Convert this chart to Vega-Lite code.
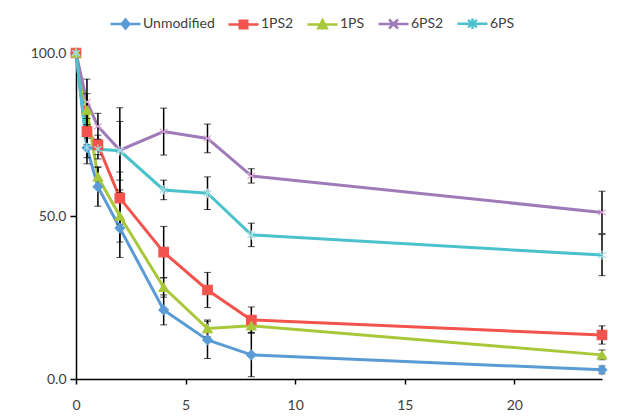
{
  "$schema": "https://vega.github.io/schema/vega-lite/v6.json",
  "width": 526,
  "height": 326,
  "autosize": "none",
  "padding": {"left": 76, "top": 53, "right": 25, "bottom": 39},
  "background": "white",
  "config": {
    "font": "Lato",
    "view": {"stroke": null},
    "axis": {"grid": false, "domainColor": "black", "tickColor": "black", "domainWidth": 1.5, "tickWidth": 1.5, "labelColor": "#404040", "labelFontSize": 14, "labelFont": "Lato"}
  },
  "data": {
    "values": [
      {"t": 0, "series": "Unmodified", "v": 100, "e": 0},
      {"t": 0.5, "series": "Unmodified", "v": 70.9, "e": 3},
      {"t": 1, "series": "Unmodified", "v": 59, "e": 6},
      {"t": 2, "series": "Unmodified", "v": 46.3, "e": 9},
      {"t": 4, "series": "Unmodified", "v": 21.2, "e": 4.6},
      {"t": 6, "series": "Unmodified", "v": 12, "e": 5.7},
      {"t": 8, "series": "Unmodified", "v": 7.4, "e": 6.7},
      {"t": 24, "series": "Unmodified", "v": 2.8, "e": 1.2},
      {"t": 0, "series": "1PS2", "v": 100, "e": 0},
      {"t": 0.5, "series": "1PS2", "v": 75.9, "e": 4},
      {"t": 1, "series": "1PS2", "v": 71.8, "e": 3},
      {"t": 2, "series": "1PS2", "v": 55.5, "e": 8},
      {"t": 4, "series": "1PS2", "v": 38.9, "e": 7.9},
      {"t": 6, "series": "1PS2", "v": 27.3, "e": 5.4},
      {"t": 8, "series": "1PS2", "v": 18.1, "e": 4},
      {"t": 24, "series": "1PS2", "v": 13.5, "e": 2.8},
      {"t": 0, "series": "1PS", "v": 100, "e": 0},
      {"t": 0.5, "series": "1PS", "v": 82.5, "e": 5},
      {"t": 1, "series": "1PS", "v": 62, "e": 3},
      {"t": 2, "series": "1PS", "v": 50, "e": 8},
      {"t": 4, "series": "1PS", "v": 28.1, "e": 3},
      {"t": 6, "series": "1PS", "v": 15.5, "e": 2.6},
      {"t": 8, "series": "1PS", "v": 16.3, "e": 2},
      {"t": 24, "series": "1PS", "v": 7.4, "e": 1.5},
      {"t": 0, "series": "6PS2", "v": 100, "e": 0},
      {"t": 0.5, "series": "6PS2", "v": 85, "e": 7},
      {"t": 1, "series": "6PS2", "v": 77.5, "e": 4},
      {"t": 2, "series": "6PS2", "v": 70.2, "e": 13},
      {"t": 4, "series": "6PS2", "v": 75.9, "e": 7.2},
      {"t": 6, "series": "6PS2", "v": 73.8, "e": 4.4},
      {"t": 8, "series": "6PS2", "v": 62.3, "e": 2.2},
      {"t": 24, "series": "6PS2", "v": 51.1, "e": 6.5},
      {"t": 0, "series": "6PS", "v": 100, "e": 0},
      {"t": 0.5, "series": "6PS", "v": 71, "e": 5},
      {"t": 1, "series": "6PS", "v": 70.5, "e": 3},
      {"t": 2, "series": "6PS", "v": 70, "e": 9},
      {"t": 4, "series": "6PS", "v": 58, "e": 3},
      {"t": 6, "series": "6PS", "v": 57, "e": 5},
      {"t": 8, "series": "6PS", "v": 44.2, "e": 3.6},
      {"t": 24, "series": "6PS", "v": 38, "e": 6.3}
    ]
  },
  "encoding": {
    "x": {"field": "t", "type": "quantitative", "scale": {"domain": [0, 24], "nice": false},
      "axis": {"title": null, "values": [0, 5, 10, 15, 20], "tickSize": 5, "labelPadding": 14, "labelFlush": false}},
    "y": {"field": "v", "type": "quantitative", "scale": {"domain": [0, 100], "nice": false},
      "axis": {"title": null, "values": [0, 50, 100], "format": ".1f", "tickSize": 6, "labelPadding": 4}}
  },
  "resolve": {"scale": {"shape": "independent", "color": "independent", "fill": "independent", "stroke": "independent"}},
  "layer": [
    {
      "mark": {"type": "line", "strokeWidth": 3},
      "encoding": {
        "color": {"field": "series", "type": "nominal", "legend": null,
          "scale": {"domain": ["Unmodified", "1PS2", "1PS", "6PS2", "6PS"], "range": ["#5B9BD5", "#F2544D", "#A8C83A", "#9F7AB8", "#4BC2CB"]}}
      }
    },
    {
      "mark": {"type": "errorbar", "ticks": {"size": 7, "strokeWidth": 1.5, "color": "black"}, "rule": {"strokeWidth": 1.5, "color": "black"}},
      "encoding": {
        "yError": {"field": "e"}
      }
    },
    {
      "mark": {"type": "point", "filled": true, "opacity": 1, "strokeWidth": 1.2, "size": 90},
      "encoding": {
        "shape": {"field": "series", "type": "nominal", "legend": null,
          "scale": {"domain": ["Unmodified", "1PS2", "1PS", "6PS2", "6PS"], "range": ["diamond", "square", "triangle-up", "M-0.8,-0.6L0.8,0.6M-0.8,0.6L0.8,-0.6", "M-0.8,-0.6L0.8,0.6M-0.8,0.6L0.8,-0.6M0,-1L0,1"]}},
        "fill": {"field": "series", "type": "nominal", "legend": null,
          "scale": {"domain": ["Unmodified", "1PS2", "1PS", "6PS2", "6PS"], "range": ["#5B9BD5", "#F2544D", "#A8C83A", "#9F7AB8", "#4BC2CB"]}},
        "stroke": {"field": "series", "type": "nominal", "legend": null,
          "scale": {"domain": ["Unmodified", "1PS2", "1PS", "6PS2", "6PS"], "range": ["#5B9BD5", "#F2544D", "#A8C83A", "#E0A8D8", "#9EE0E6"]}}
      }
    },
    {
      "transform": [{"filter": "datum.t < 0"}],
      "mark": {"type": "point", "filled": true, "strokeWidth": 2.5},
      "encoding": {
        "shape": {"field": "series", "type": "nominal", "title": null,
          "scale": {"domain": ["Unmodified", "1PS2", "1PS", "6PS2", "6PS"], "range": [
            "M-1,0H1M0,-0.3L0.25,0L0,0.3L-0.25,0Z",
            "M-1,0H1M-0.25,-0.25H0.25V0.25H-0.25Z",
            "M-1,0H1M0,-0.28L0.28,0.25H-0.28Z",
            "M-1,0H1M-0.3,-0.3L0.3,0.3M-0.3,0.3L0.3,-0.3",
            "M-1,0H1M-0.3,-0.25L0.3,0.25M-0.3,0.25L0.3,-0.25M0,-0.35V0.35"]},
          "legend": {"orient": "none", "legendX": 33, "legendY": -46, "direction": "horizontal", "columns": 5, "symbolSize": 900, "symbolStrokeWidth": 2.5, "labelFontSize": 14, "labelFont": "Lato", "labelColor": "#404040", "labelOffset": 1, "columnPadding": 8, "symbolOpacity": 1}},
        "fill": {"field": "series", "type": "nominal", "title": null,
          "scale": {"domain": ["Unmodified", "1PS2", "1PS", "6PS2", "6PS"], "range": ["#5B9BD5", "#F2544D", "#A8C83A", "#9F7AB8", "#4BC2CB"]}},
        "stroke": {"field": "series", "type": "nominal", "title": null,
          "scale": {"domain": ["Unmodified", "1PS2", "1PS", "6PS2", "6PS"], "range": ["#5B9BD5", "#F2544D", "#A8C83A", "#9F7AB8", "#4BC2CB"]}}
      }
    }
  ]
}
